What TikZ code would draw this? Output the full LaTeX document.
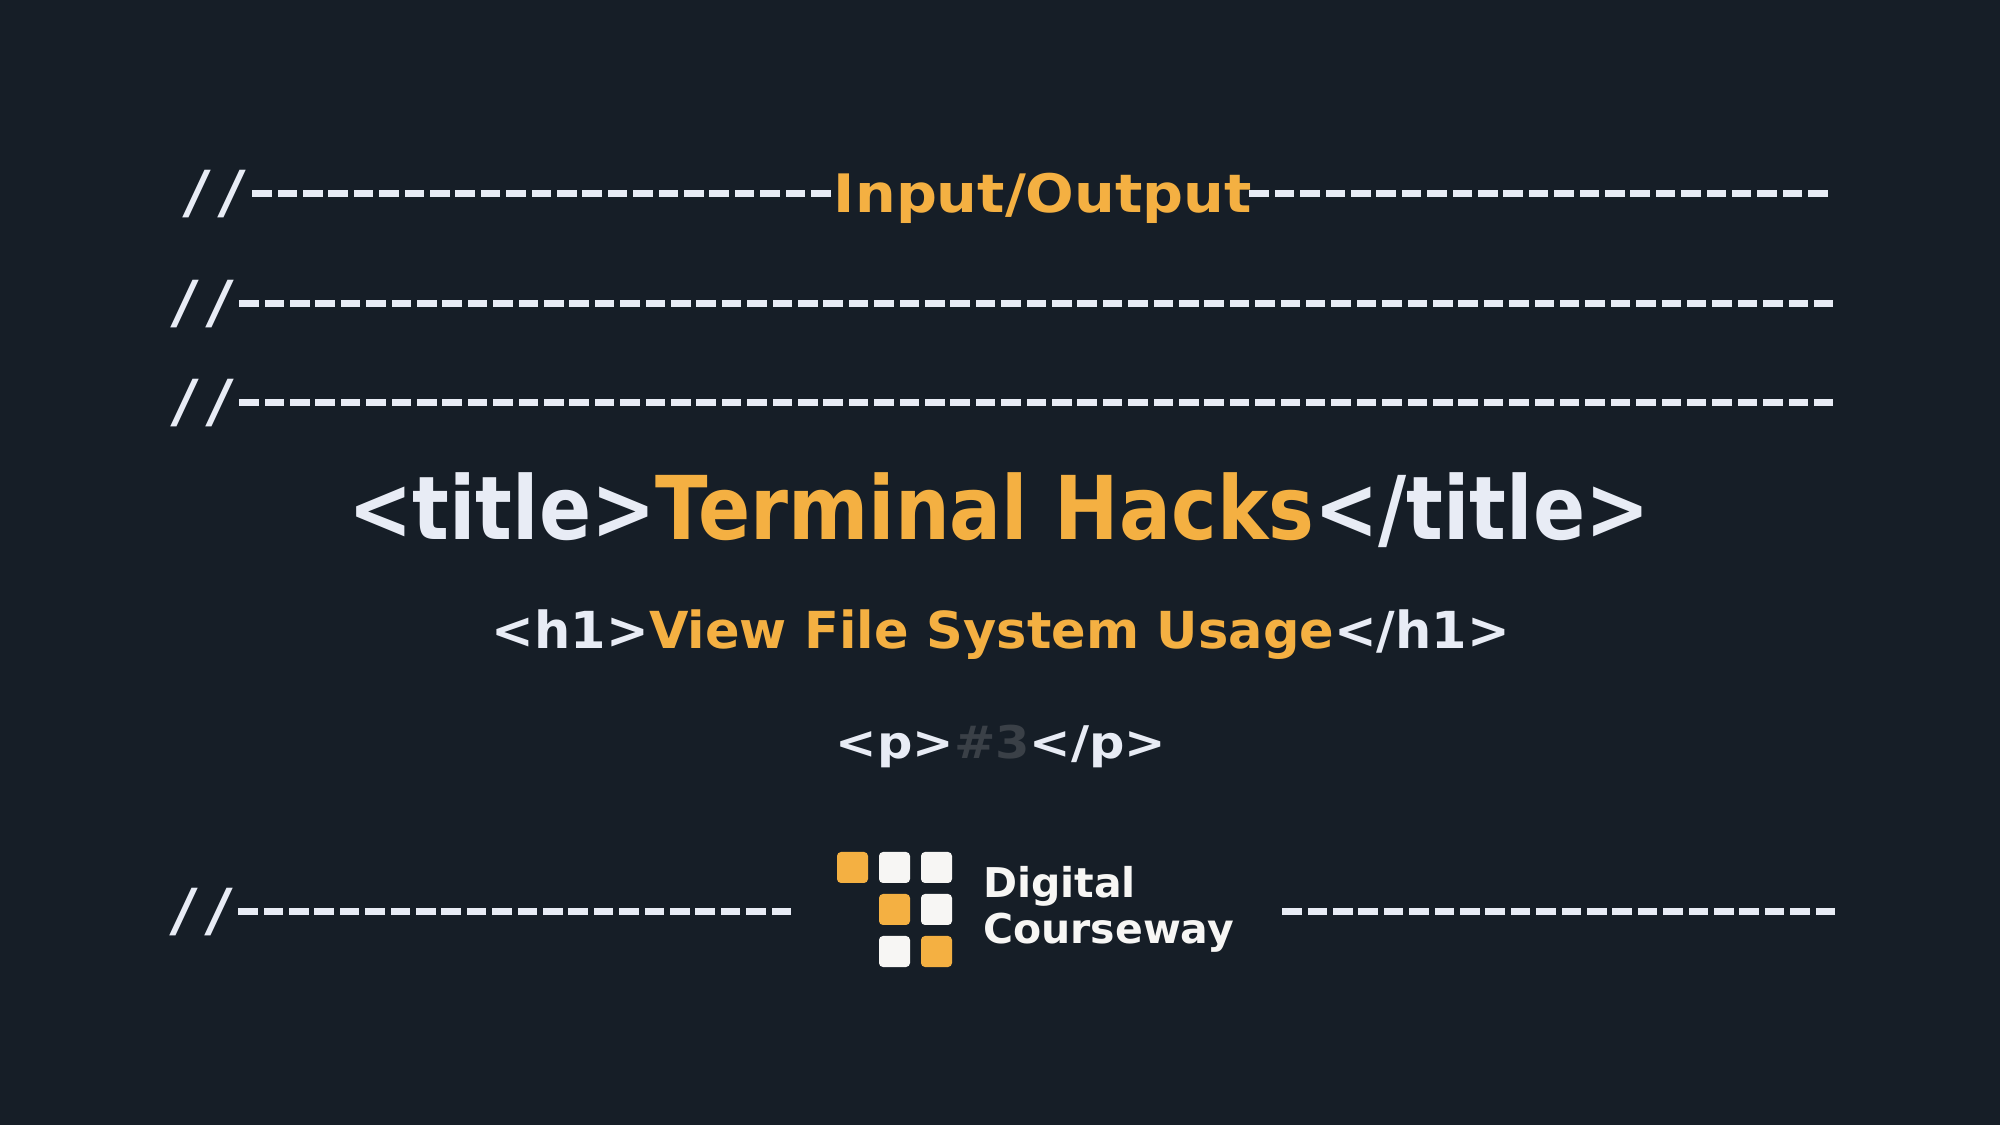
\documentclass[tikz,border=0pt]{standalone}
\usepackage{fontspec}
\setmainfont{DejaVu Sans}
\newfontfamily\monob{DejaVu Sans Mono}[BoldFont={* Bold}]
\definecolor{bg}{HTML}{161E27}
\definecolor{wt}{HTML}{E8ECF5}
\definecolor{og}{HTML}{F4B042}
\definecolor{gr}{HTML}{3A4047}
\definecolor{lw}{HTML}{F7F6F4}
\newcommand\dsh{\makebox[25.4pt][l]{\rule[15.5pt]{19.5pt}{7pt}}}
\newcommand\dshs[1]{\foreach\i in {1,...,#1}{\dsh}}
\newcommand\slsh[1]{\makebox[#1][l]{//}}
\begin{document}
\begin{tikzpicture}[x=1pt,y=1pt,
  dl/.style={inner sep=0pt,anchor=base west,text=wt,font=\monob\bfseries\fontsize{58}{64}\selectfont},
  big/.style={inner sep=0pt,text=wt,font=\bfseries\fontsize{88}{100}\selectfont},
  sq/.style={rounded corners=4pt,minimum size=31pt,inner sep=0pt,draw=none},
  logo/.style={inner sep=0pt,anchor=base west,text=lw,font=\bfseries\fontsize{41}{48}\selectfont}]
\fill[bg] (0,0) rectangle (2000,1125);
\useasboundingbox (0,0) rectangle (2000,1125);
\node[dl] (l1) at (179,912) {\slsh{73pt}\dshs{23}\makebox[413pt]{\scalebox{1.08}[1]{\rmfamily\bfseries\fontsize{53}{60}\selectfont\color{og}Input/Output}}\dshs{23}};
\node[dl] (l2) at (167,802) {\slsh{72pt}\dshs{63}};
\node[dl] (l3) at (167,703) {\slsh{72pt}\dshs{63}};
\node[big] (t) at (999,615) {\scalebox{0.875}[1]{<title>\textcolor{og}{Terminal Hacks}</title>}};
\node[big,font=\bfseries\fontsize{51}{60}\selectfont] (h) at (1001,490) {<h1>\textcolor{og}{View File System Usage}</h1>};
\node[big,font=\bfseries\fontsize{45}{50}\selectfont] (p) at (1001,379) {\scalebox{1.1}[1]{<p>\textcolor{gr}{\#3}</p>}};
\node[dl] (bl) at (166,194) {\slsh{72pt}\dshs{22}};
\node[dl] (br) at (1282,194) {\dshs{22}};
\node[sq,fill=og] (s1) at (852.5,257.5) {};
\node[sq,fill=lw] (s2) at (894.5,257.5) {};
\node[sq,fill=lw] (s3) at (936.5,257.5) {};
\node[sq,fill=og] (s4) at (894.5,215.5) {};
\node[sq,fill=lw] (s5) at (936.5,215.5) {};
\node[sq,fill=lw] (s6) at (894.5,173.5) {};
\node[sq,fill=og] (s7) at (936.5,173.5) {};
\node[logo] (dg) at (983,227) {Digital};
\node[logo] (cw) at (983,182) {Courseway};
\end{tikzpicture}
\end{document}
